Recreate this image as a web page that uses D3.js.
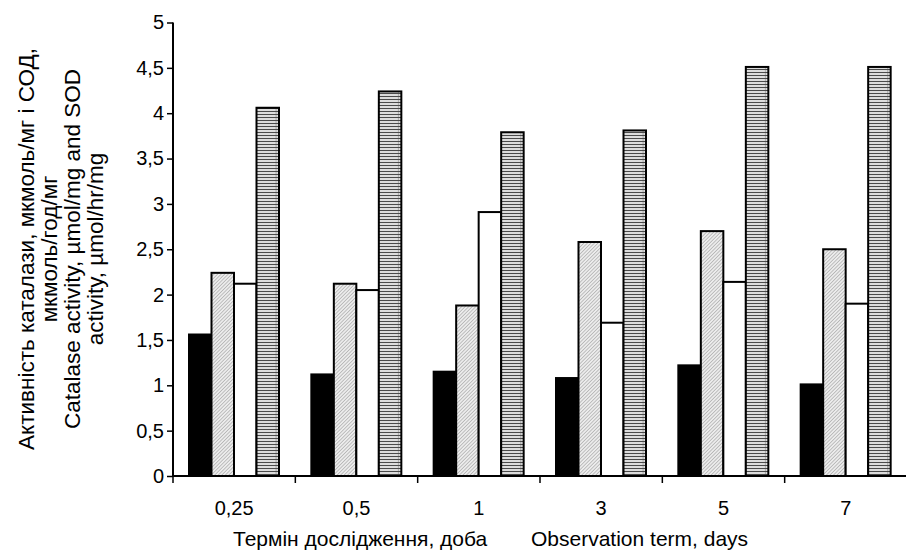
<!DOCTYPE html>
<html>
<head>
<meta charset="utf-8">
<script src="https://cdn.jsdelivr.net/npm/d3@7"></script>
<style>
  body { margin: 0; background: #fff; }
  text { font-family: "Liberation Sans", Arial, sans-serif; fill: #000; }
</style>
</head>
<body>
<svg id="chart"></svg>
<script>
const days = ["0,25", "0,5", "1", "3", "5", "7"];
const seriesNames = ["s1", "s2", "s3", "s4"];
const black = [1.56, 1.12, 1.15, 1.08, 1.22, 1.01];
const diag = [2.24, 2.12, 1.88, 2.58, 2.70, 2.50];
const white = [2.12, 2.05, 2.91, 1.69, 2.14, 1.90];
const horiz = [4.06, 4.24, 3.79, 3.81, 4.51, 4.51];
const yTicks = [0, 0.5, 1, 1.5, 2, 2.5, 3, 3.5, 4, 4.5, 5];

const width = 906, height = 552;
const svg = d3.select("#chart").attr("width", width).attr("height", height);

// patterns
const defs = svg.append("defs");
const pd = defs.append("pattern").attr("id", "pDiag")
    .attr("width", 2.5).attr("height", 2.5)
    .attr("patternUnits", "userSpaceOnUse")
    .attr("patternTransform", "rotate(45)");
pd.append("rect").attr("width", 2.5).attr("height", 2.5).attr("fill", "#ececec");
pd.append("line").attr("x1", 0).attr("y1", 0).attr("x2", 0).attr("y2", 2.5)
    .attr("stroke", "#9a9a9a").attr("stroke-width", 1.1);

const ph = defs.append("pattern").attr("id", "pHoriz")
    .attr("width", 22.9).attr("height", 3)
    .attr("patternUnits", "userSpaceOnUse");
ph.append("rect").attr("width", 22.9).attr("height", 3).attr("fill", "#dcdcdc");
ph.append("line").attr("x1", 0).attr("y1", 0.5).attr("x2", 22.9).attr("y2", 0.5)
    .attr("stroke", "#4a4a4a").attr("stroke-width", 1);
ph.append("line").attr("x1", 11.5).attr("y1", 1).attr("x2", 11.5).attr("y2", 3)
    .attr("stroke", "#9a9a9a").attr("stroke-width", 0.8);

const fills = ["#000", "url(#pDiag)", "#fff", "url(#pHoriz)"];
const values = [black, diag, white, horiz];

const y = d3.scaleLinear().domain([0, 5]).range([476, 22.5]);
const x0 = d3.scaleBand().domain(days).range([173, 907]);
const x1 = d3.scaleBand().domain(seriesNames).range([16, 106]);

const rows = days.map((d, i) => ({ day: d, vals: values.map((v, k) => ({ key: seriesNames[k], v: v[i], k: k })) }));

const g = svg.append("g");
const groups = g.selectAll("g.grp").data(rows).enter().append("g")
    .attr("transform", d => `translate(${x0(d.day)},0)`);

groups.selectAll("rect").data(d => d.vals).enter().append("rect")
    .attr("x", d => x1(d.key))
    .attr("width", x1.bandwidth())
    .attr("y", d => y(d.v))
    .attr("height", d => y(0) - y(d.v))
    .attr("fill", d => fills[d.k])
    .attr("stroke", "#000")
    .attr("stroke-width", 2);

// y axis
const yAxis = d3.axisLeft(y).tickValues(yTicks).tickSize(6)
    .tickFormat(d => String(d).replace(".", ","));
const ya = svg.append("g").attr("transform", "translate(173,0)").call(yAxis);
ya.select(".domain").attr("stroke-width", 2).attr("d", "M0,22.5V476");
ya.selectAll(".tick line").attr("stroke-width", 1.5);
ya.selectAll(".tick text").attr("font-size", 20).attr("x", -9)
    .style("font-family", "'Liberation Sans', Arial, sans-serif");

// x axis
const xa = svg.append("g").attr("transform", "translate(0,476)");
xa.append("line").attr("x1", 172).attr("x2", 906).attr("stroke", "#000").attr("stroke-width", 2);
xa.selectAll("line.tk").data(days.slice(1)).enter().append("line")
    .attr("x1", d => x0(d)).attr("x2", d => x0(d))
    .attr("y1", 0).attr("y2", 7).attr("stroke", "#000").attr("stroke-width", 1.5);
xa.append("line").attr("x1", 173).attr("x2", 173).attr("y1", 0).attr("y2", 7)
    .attr("stroke", "#000").attr("stroke-width", 1.5);
xa.selectAll("text.lbl").data(days).enter().append("text")
    .attr("x", d => x0(d) + x0.bandwidth() / 2)
    .attr("y", 39)
    .attr("text-anchor", "middle")
    .attr("font-size", 20)
    .text(d => d);

// x title
svg.append("text").attr("x", 233).attr("y", 546).attr("font-size", 21)
    .text("Термін дослідження, доба");
svg.append("text").attr("x", 531).attr("y", 546).attr("font-size", 21)
    .text("Observation term, days");

// y title, one text per line
const yTitle = [
  "Активність каталази, мкмоль/мг і СОД,",
  "мкмоль/год/мг",
  "Catalase activity, µmol/mg and SOD",
  "activity, µmol/hr/mg"
];
svg.selectAll("text.ytitle").data(yTitle).enter().append("text")
    .attr("class", "ytitle")
    .attr("transform", (d, i) => `translate(${34 + i * 23},249) rotate(-90)`)
    .attr("text-anchor", "middle")
    .attr("font-size", 22.5)
    .text(d => d);
</script>
</body>
</html>
